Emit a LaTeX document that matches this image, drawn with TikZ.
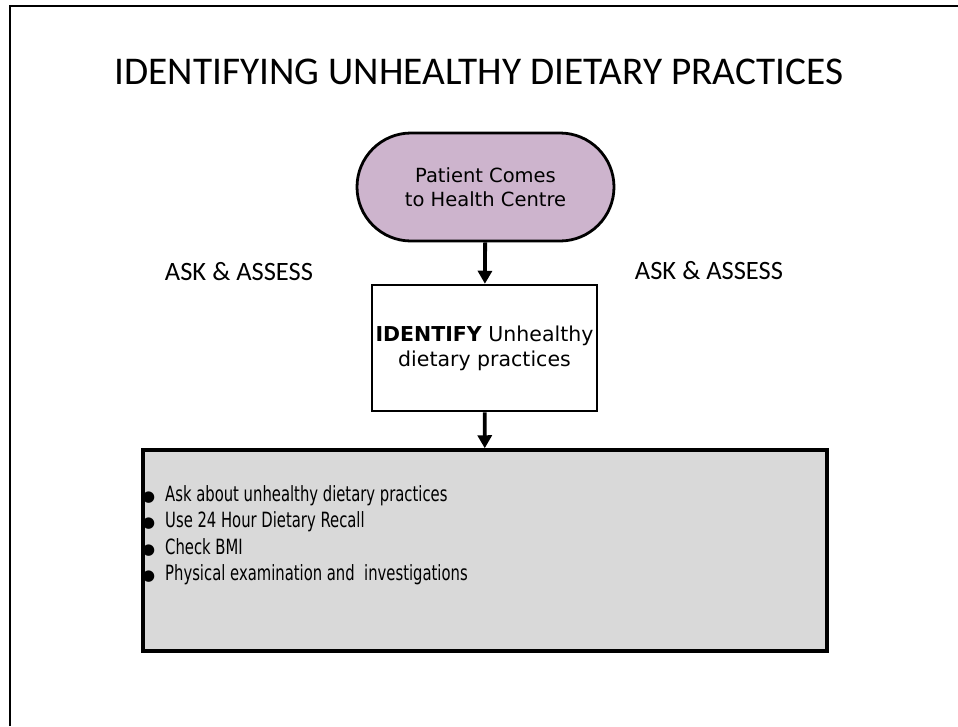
\documentclass[tikz,border=0pt]{standalone}
\usepackage{fontspec}
\setmainfont{Carlito}
\newfontfamily\verdfont{DejaVu Sans}
\newfontfamily\narrowfont[FakeStretch=0.705]{DejaVu Sans}
\usepackage{tikz}
\usetikzlibrary{arrows.meta,positioning,shapes.misc}

\definecolor{startpurple}{RGB}{205,180,205}
\definecolor{listgray}{RGB}{217,217,217}

\begin{document}
\begin{tikzpicture}[
  x=1pt, y=-1pt,
  >={Triangle[length=13pt, width=14pt]},
  startbox/.style={rounded rectangle, draw=black, line width=2.8pt, fill=startpurple,
                   minimum width=257pt, minimum height=108pt, align=center,
                   font=\verdfont\fontsize{19.5}{24}\selectfont, inner sep=0pt},
  stepbox/.style={rectangle, draw=black, line width=2.5pt, fill=white,
                  minimum width=225pt, minimum height=126pt, align=center,
                  font=\verdfont\fontsize{20.5}{25}\selectfont, inner sep=0pt},
  listbox/.style={rectangle, draw=black, line width=3.5pt, fill=listgray,
                  minimum width=684pt, minimum height=201pt},
  flow/.style={->, line width=3.8pt, draw=black},
  side/.style={font=\fontsize{26.5}{29}\selectfont},
]

\useasboundingbox (0,0) rectangle (958,726);

% slide frame
\draw[line width=2pt] (10,726) -- (10,6) -- (958,6);

% title
\node[font=\fontsize{39.3}{43}\selectfont] (title) at (479,72)
  {IDENTIFYING UNHEALTHY DIETARY PRACTICES};

% flow
\node[startbox] (patient) at (485.5,187) {Patient Comes\\to Health Centre};
\node[stepbox] (identify) at (484.5,348) {\textbf{IDENTIFY} Unhealthy\\dietary practices};
\node[listbox] (checks) at (485,550.5) {};

\node[side] (askleft)  at (239,272) {ASK \& ASSESS};
\node[side] (askright) at (709,271) {ASK \& ASSESS};

% list inside the grey box
\node[anchor=west, align=left, inner sep=0pt,
      font=\narrowfont\fontsize{21}{26.5}\selectfont] (items) at (142,535)
  {\makebox[23pt][l]{\verdfont\fontsize{15}{15}\selectfont●}Ask about unhealthy dietary practices\\
   \makebox[23pt][l]{\verdfont\fontsize{15}{15}\selectfont●}Use 24 Hour Dietary Recall\\
   \makebox[23pt][l]{\verdfont\fontsize{15}{15}\selectfont●}Check BMI\\
   \makebox[23pt][l]{\verdfont\fontsize{15}{15}\selectfont●}Physical examination and~ investigations};

% arrows
\draw[flow] (patient) -- (identify);
\draw[flow] (identify) -- (checks);

\end{tikzpicture}
\end{document}
